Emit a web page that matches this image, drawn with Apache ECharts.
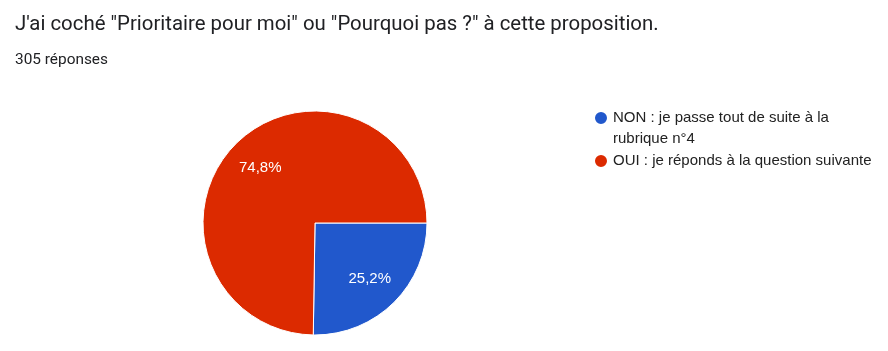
<!DOCTYPE html>
<html>
<head>
<meta charset="utf-8">
<script src="https://cdn.jsdelivr.net/npm/echarts@6/dist/echarts.min.js"></script>
<style>
  html, body { margin: 0; padding: 0; background: #fff; }
  #chart { width: 888px; height: 351px; }
</style>
</head>
<body>
<div id="chart"></div>
<script>
// données
var categories = ['NON : je passe tout de suite à la rubrique n°4', 'OUI : je réponds à la question suivante'];
var counts = [77, 228];
var colors = ['#2158cc', '#dc2a00'];
var titleText = 'J\'ai coché "Prioritaire pour moi" ou "Pourquoi pas ?" à cette proposition.';
var subText = '305 réponses';

var pieData = categories.map(function (name, i) {
    return { name: name, value: counts[i], itemStyle: { color: colors[i] } };
});

var myChart = echarts.init(document.getElementById('chart'));
var option = {
    animation: false,
    title: {
        text: titleText,
        subtext: subText,
        left: 10,
        top: 10,
        itemGap: 18,
        textStyle: {
            fontFamily: 'Roboto',
            fontSize: 20.4,
            fontWeight: 'normal',
            color: '#202124'
        },
        subtextStyle: {
            fontFamily: 'Roboto',
            fontSize: 15.4,
            color: '#202124'
        }
    },
    legend: {
        orient: 'vertical',
        left: 593,
        top: 86.5,
        padding: 0,
        itemGap: 1,
        itemWidth: 14,
        itemHeight: 14,
        icon: 'circle',
        textStyle: {
            fontFamily: 'Arial',
            fontSize: 15,
            lineHeight: 21,
            color: '#222222',
            width: 276,
            overflow: 'break'
        },
        // ligne vide en tête pour aligner la pastille sur la première ligne
        formatter: function (name) {
            return name === categories[0] ? '\n' + name : name;
        },
        data: categories
    },
    series: [{
        type: 'pie',
        center: [315, 223],
        radius: [0, 112],
        startAngle: 0,
        clockwise: true,
        label: { show: false },
        labelLine: { show: false },
        itemStyle: { borderColor: '#ffffff', borderWidth: 1 },
        emphasis: { disabled: true },
        data: pieData
    }, {
        // calque transparent pour placer les pourcentages
        type: 'pie',
        center: [315, 223],
        radius: [38, 112],
        startAngle: 0,
        clockwise: true,
        silent: true,
        z: 3,
        percentPrecision: 1,
        itemStyle: { color: 'rgba(0,0,0,0)', borderWidth: 0 },
        emphasis: { disabled: true },
        label: {
            show: true,
            position: 'inside',
            fontFamily: 'Arial',
            fontSize: 15,
            color: '#ffffff',
            formatter: function (p) {
                return String(p.percent.toFixed(1)).replace('.', ',') + '%';
            }
        },
        labelLine: { show: false },
        data: categories.map(function (name, i) {
            return { name: name, value: counts[i] };
        })
    }]
};
myChart.setOption(option);
</script>
</body>
</html>
